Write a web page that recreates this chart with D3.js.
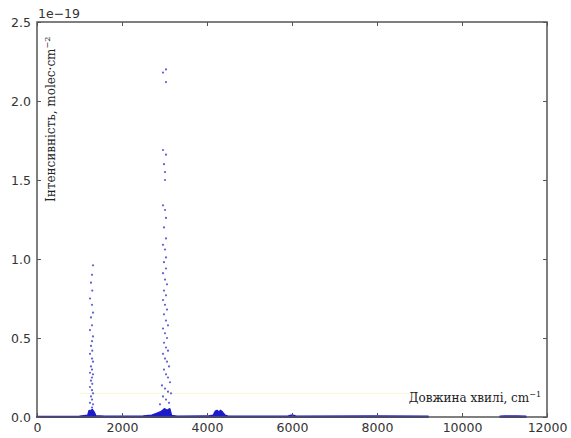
<!DOCTYPE html>
<html><head><meta charset="utf-8">
<script src="https://cdn.jsdelivr.net/npm/d3@7"></script>
<style>body{margin:0;background:#fff}svg{display:block}</style>
</head><body>
<script>
// Tick labels
const xTicks = [0, 2000, 4000, 6000, 8000, 10000, 12000];
const yTicks = [0.0, 0.5, 1.0, 1.5, 2.0, 2.5];
const yExponent = "1e\u221219";
const xLabel = "Довжина хвилі, cm";
const yLabel = "Інтенсивність, molec·cm";

// Line intensities (units of 1e-19), band near 1300 cm-1
const band1Wn = [1318,1294,1270,1300,1247,1294,1318,1270,1294,1247,1318,1294,1270,1300,1247,1294,1318,1270,1294,1247,1318,1294,1270,1300,1247,1294,1318,1270,1294,1247,1318,1294,1270,1300];
const band1I  = [0.96,0.90,0.85,0.80,0.75,0.71,0.66,0.63,0.58,0.55,0.51,0.48,0.45,0.42,0.40,0.37,0.35,0.32,0.30,0.28,0.27,0.25,0.23,0.21,0.19,0.17,0.15,0.13,0.11,0.09,0.08,0.06,0.04,0.03];
// Band near 3000 cm-1
const band2Wn = [3035,2965,3035,2965,3035,2988,3012,3012,2965,3012,3035,2988,3035,2965,3012,3035,2988,3035,2965,3012,3059,2988,3035,2965,3012,3059,2988,3035,3082,2965,3012,3059,2988,3035,3082,2965,3012,3059,3106,2988,3035,3082,3130,2941,3012,3082,3153,2965,3035,3106,2894];
const band2I  = [2.20,2.18,2.12,1.69,1.66,1.60,1.55,1.50,1.34,1.31,1.26,1.20,1.13,1.09,1.06,1.01,0.98,0.94,0.91,0.87,0.84,0.80,0.77,0.74,0.71,0.68,0.65,0.61,0.58,0.56,0.53,0.50,0.47,0.44,0.42,0.40,0.37,0.35,0.32,0.30,0.27,0.25,0.22,0.20,0.18,0.16,0.15,0.13,0.11,0.09,0.08];
// Weak-line envelope near zero
const baseWn = [0,1000,1200,1230,1260,1300,1340,1380,1600,2500,2700,2800,2900,2960,3000,3060,3120,3160,3300,4000,4150,4200,4240,4280,4320,4360,4420,4500,5900,5980,6020,6100,8000,9200];
const baseI  = [0.002,0.003,0.01,0.04,0.03,0.045,0.03,0.006,0.003,0.004,0.01,0.02,0.03,0.04,0.05,0.04,0.05,0.008,0.003,0.004,0.01,0.035,0.04,0.028,0.04,0.03,0.01,0.003,0.003,0.01,0.01,0.003,0.005,0.003];
const base2Wn = [10900,11000,11300,11500];
const base2I  = [0.003,0.005,0.005,0.003];
const guideWn = [1000, 9000];
const guideI  = [0.15, 0.15];

const W = 571, H = 438;
const m = {l: 37, r: 24, t: 22, b: 21};
const svg = d3.select("body").append("svg").attr("width", W).attr("height", H);
const x = d3.scaleLinear().domain([0, 12000]).range([m.l, W - m.r]);
const y = d3.scaleLinear().domain([0, 2.5]).range([H - m.b, m.t]);
const blue = "#1c1cc8";

// faint guide
svg.append("path").datum(guideWn.map((w,i)=>[w,guideI[i]]))
  .attr("d", d3.line().x(d=>x(d[0])).y(d=>y(d[1])))
  .attr("stroke", "#fbf6d2").attr("stroke-width", 1).attr("fill", "none");

// envelope areas
const area = d3.area().x(d=>x(d[0])).y0(y(0)).y1(d=>y(d[1]));
[[baseWn, baseI],[base2Wn, base2I]].forEach(([ws, is]) => {
  svg.append("path").datum(ws.map((w,i)=>[w,is[i]]))
    .attr("d", area).attr("fill", blue).attr("stroke", blue).attr("stroke-width", 2)
    .attr("stroke-linejoin", "round");
});

// dots
const pts = band1Wn.map((w,i)=>[w,band1I[i]]).concat(band2Wn.map((w,i)=>[w,band2I[i]]));
svg.append("g").selectAll("circle").data(pts).join("circle")
  .attr("cx", d=>x(d[0])).attr("cy", d=>y(d[1])).attr("r", 1.1)
  .attr("fill", blue).attr("fill-opacity", 0.7);

// frame
svg.append("rect").attr("x", m.l).attr("y", m.t).attr("width", W - m.l - m.r).attr("height", H - m.t - m.b)
  .attr("fill", "none").attr("stroke", "#555").attr("stroke-width", 1.5);

// axes (ticks inward)
const font = "DejaVu Sans";
const gx = svg.append("g").attr("transform", `translate(0,${H - m.b})`)
  .call(d3.axisBottom(x).tickValues(xTicks).tickSizeInner(-4).tickSizeOuter(0).tickPadding(6).tickFormat(d3.format("d")));
const gxt = svg.append("g").attr("transform", `translate(0,${m.t})`)
  .call(d3.axisTop(x).tickValues(xTicks).tickSizeInner(-4).tickSizeOuter(0).tickFormat(""));
const gy = svg.append("g").attr("transform", `translate(${m.l},0)`)
  .call(d3.axisLeft(y).tickValues(yTicks).tickSizeInner(-4).tickSizeOuter(0).tickPadding(6).tickFormat(d3.format(".1f")));
const gyr = svg.append("g").attr("transform", `translate(${W - m.r},0)`)
  .call(d3.axisRight(y).tickValues(yTicks).tickSizeInner(-4).tickSizeOuter(0).tickFormat(""));
[gx, gxt, gy, gyr].forEach(g => {
  g.select(".domain").remove();
  g.selectAll("line").attr("stroke", "#555");
  g.selectAll("text").attr("font-family", font).attr("font-size", 12.5).attr("fill", "#333");
});

svg.append("text").attr("x", m.l + 1).attr("y", m.t - 4).text(yExponent)
  .attr("font-family", font).attr("font-size", 12.5).attr("fill", "#333");

// axis labels (inside plot, serif)
const xl = svg.append("text").attr("x", W - m.r - 6).attr("y", H - m.b - 15).attr("text-anchor", "end")
  .attr("font-family", "DejaVu Serif").attr("font-size", 12).attr("fill", "#222");
xl.append("tspan").text(xLabel);
xl.append("tspan").text("\u22121").attr("font-size", 8).attr("dy", -5);

const yl = svg.append("text").attr("transform", `translate(${m.l + 18},${m.t + 180}) rotate(-90)`)
  .attr("font-family", "DejaVu Serif").attr("font-size", 12).attr("fill", "#222");
yl.append("tspan").text(yLabel);
yl.append("tspan").text("\u22122").attr("font-size", 8).attr("dy", -5);
</script>
</body></html>
